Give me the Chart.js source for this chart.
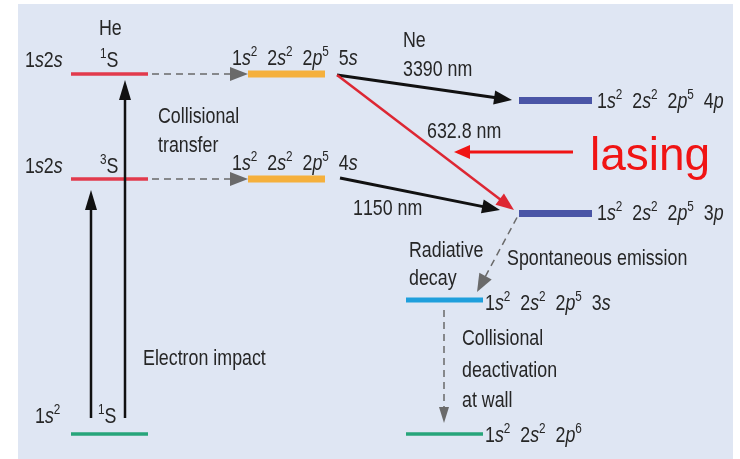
<!DOCTYPE html>
<html>
<head>
<meta charset="utf-8">
<script src="https://cdn.jsdelivr.net/npm/chart.js@4"></script>
<style>
  body { margin: 0; background: #fff; }
  canvas { display: block; }
</style>
</head>
<body>
<canvas id="levels" width="740" height="459"></canvas>
<script>
// He-Ne energy levels (energy in arbitrary units, bottom = 0)
var levelNames  = ['He 1s2s 1S', 'He 1s2s 3S', 'He 1s2 1S', 'Ne 5s', 'Ne 4s', 'Ne 4p', 'Ne 3p', 'Ne 3s', 'Ne 2p6'];
var levelEnergy = [385, 280, 25, 385, 280, 358.5, 245.5, 159, 25];
var levelColumn = ['he', 'he', 'he', 'neA', 'neA', 'neB', 'neB', 'neC', 'neC'];

// transitions: from level -> to level
var transFrom  = [2, 2, 0, 1, 3, 3, 4, 6, 7];
var transTo    = [1, 0, 3, 4, 5, 6, 6, 7, 8];
var transKind  = ['pump', 'pump', 'transfer', 'transfer', 'ir', 'laser', 'ir', 'spont', 'wall'];

// no condensed face installed, so squeeze Liberation Sans horizontally
var FONT = "'Liberation Sans', Arial, sans-serif";
var SQUEEZE = 0.81;
var TEXT_SIZE = 22;

// layout of the columns (x range of each level bar)
var columns = { he: [71, 148], neA: [248, 325], neB: [519, 592], neC: [406, 483] };
var levelStyle = [
  ['#e23a4c', 3.5], ['#e23a4c', 3.5], ['#27a57a', 3.5],
  ['#f5b03c', 7], ['#f5b03c', 7], ['#4a55a6', 7], ['#4a55a6', 7],
  ['#1f9fdc', 5], ['#27a57a', 3.5]
];

// arrow geometry per transition: [x0, dE0, x1, dE1] (offsets from level energies)
var transGeom = [
  [91, 16, 91, -11],
  [125, 16, 125, -6],
  [152, 0, 248, 0],
  [152, 0, 248, 0],
  [337, -1, 512, 0.5],
  [337, -1, 514, 3.5],
  [340, 1, 500, 3.5],
  [517, -4, 477, 8],
  [444, -10, 444, 11]
];
var kindStyle = {
  pump: { color: '#111', width: 2.5, dash: [], head: [20, 6] },
  transfer: { color: '#6a6a6a', width: 1.5, dash: [7, 5], head: [18, 7] },
  ir: { color: '#111', width: 3, dash: [], head: [18, 7] },
  laser: { color: '#dd2733', width: 2.5, dash: [], head: [18, 7] },
  spont: { color: '#6a6a6a', width: 1.5, dash: [7, 5], head: [18, 7] },
  wall: { color: '#6a6a6a', width: 1.5, dash: [7, 5], head: [16, 5] }
};

// text labels: _italic_, ^superscript^
var labelText = [
  'He', '^1^S', '1_s_2_s_', '^3^S', '1_s_2_s_', '1_s_^2^', '^1^S',
  '1_s_^2^  2_s_^2^  2_p_^5^  5_s_', '1_s_^2^  2_s_^2^  2_p_^5^  4_s_',
  'Collisional', 'transfer', 'Electron impact',
  'Ne', '3390 nm', '632.8 nm', '1150 nm',
  '1_s_^2^  2_s_^2^  2_p_^5^  4_p_', '1_s_^2^  2_s_^2^  2_p_^5^  3_p_',
  'Radiative', 'decay', 'Spontaneous emission',
  '1_s_^2^  2_s_^2^  2_p_^5^  3_s_',
  'Collisional', 'deactivation', 'at wall',
  '1_s_^2^  2_s_^2^  2_p_^6^'
];
var labelPos = [
  [99, 424], [100, 392], [25, 392], [100, 286], [25, 286], [35, 36], [98, 36],
  [232, 394], [232, 289],
  [158, 336], [158, 307], [143, 94],
  [403, 412], [403, 383], [427, 321], [353, 244],
  [597, 351], [597, 239],
  [409, 202], [409, 174], [507, 194],
  [485, 149],
  [462, 114], [462, 82], [462, 52],
  [485, 17]
];

// lasing callout
var lasingText = 'lasing';
var lasingPos = [590, 289];
var lasingArrow = [573, 307, 454, 307];

var levelDatasets = levelNames.map(function (name, i) {
  var c = columns[levelColumn[i]];
  return {
    label: name,
    data: [{ x: c[0], y: levelEnergy[i] }, { x: c[1], y: levelEnergy[i] }],
    showLine: true,
    borderColor: levelStyle[i][0],
    borderWidth: levelStyle[i][1],
    pointRadius: 0,
    fill: false
  };
});

function drawRich(ctx, str, x, y, size, color) {
  var it = false, sup = false, cx = 0;
  ctx.save();
  ctx.translate(x, y);
  ctx.scale(SQUEEZE, 1);
  ctx.fillStyle = color;
  ctx.textAlign = 'left';
  ctx.textBaseline = 'alphabetic';
  for (var k = 0; k < str.length; k++) {
    var ch = str[k];
    if (ch === '_') { it = !it; continue; }
    if (ch === '^') { sup = !sup; continue; }
    var s = sup ? size * 0.66 : size;
    ctx.font = (it ? 'italic ' : '') + s + 'px ' + FONT;
    ctx.fillText(ch, cx, sup ? -size * 0.4 : 0);
    cx += ctx.measureText(ch).width;
  }
  ctx.restore();
}

function arrow(ctx, x0, y0, x1, y1, st) {
  var ang = Math.atan2(y1 - y0, x1 - x0);
  var hl = st.head[0], hw = st.head[1];
  var bx = x1 - Math.cos(ang) * hl, by = y1 - Math.sin(ang) * hl;
  ctx.save();
  ctx.strokeStyle = st.color;
  ctx.fillStyle = st.color;
  ctx.lineWidth = st.width;
  ctx.setLineDash(st.dash);
  ctx.beginPath();
  ctx.moveTo(x0, y0);
  ctx.lineTo(bx + Math.cos(ang) * 2, by + Math.sin(ang) * 2);
  ctx.stroke();
  ctx.setLineDash([]);
  ctx.beginPath();
  ctx.moveTo(x1, y1);
  ctx.lineTo(bx + Math.sin(ang) * hw, by - Math.cos(ang) * hw);
  ctx.lineTo(bx - Math.sin(ang) * hw, by + Math.cos(ang) * hw);
  ctx.closePath();
  ctx.fill();
  ctx.restore();
}

var diagramPlugin = {
  id: 'diagram',
  beforeDraw: function (chart) {
    var ctx = chart.ctx;
    ctx.save();
    ctx.fillStyle = '#dfe6f3';
    ctx.fillRect(18, 4, 715, 455);
    ctx.restore();
  },
  afterDatasetsDraw: function (chart) {
    var ctx = chart.ctx, xs = chart.scales.x, ys = chart.scales.y;
    transFrom.forEach(function (f, i) {
      var g = transGeom[i];
      arrow(ctx,
        xs.getPixelForValue(g[0]), ys.getPixelForValue(levelEnergy[f] + g[1]),
        xs.getPixelForValue(g[2]), ys.getPixelForValue(levelEnergy[transTo[i]] + g[3]),
        kindStyle[transKind[i]]);
    });
    labelText.forEach(function (t, i) {
      drawRich(ctx, t, xs.getPixelForValue(labelPos[i][0]), ys.getPixelForValue(labelPos[i][1]), TEXT_SIZE, '#262626');
    });
    arrow(ctx, xs.getPixelForValue(lasingArrow[0]), ys.getPixelForValue(lasingArrow[1]),
      xs.getPixelForValue(lasingArrow[2]), ys.getPixelForValue(lasingArrow[3]),
      { color: '#f01414', width: 3, dash: [], head: [16, 7] });
    ctx.save();
    ctx.font = "46px 'Liberation Sans', Arial, sans-serif";
    ctx.fillStyle = '#f01414';
    ctx.textBaseline = 'alphabetic';
    ctx.fillText(lasingText, xs.getPixelForValue(lasingPos[0]), ys.getPixelForValue(lasingPos[1]));
    ctx.restore();
  }
};

new Chart(document.getElementById('levels').getContext('2d'), {
  type: 'scatter',
  data: { datasets: levelDatasets },
  options: {
    responsive: false,
    animation: false,
    layout: { padding: 0 },
    plugins: { legend: { display: false }, tooltip: { enabled: false } },
    scales: {
      x: { type: 'linear', min: 0, max: 740, display: false },
      y: { type: 'linear', min: 0, max: 459, display: false }
    }
  },
  plugins: [diagramPlugin]
});
</script>
</body>
</html>
